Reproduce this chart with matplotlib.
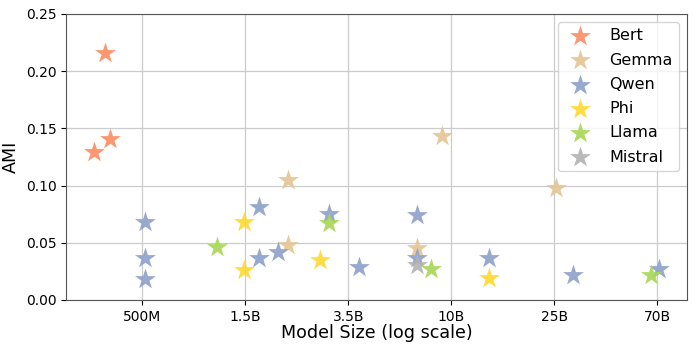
import numpy as np
import matplotlib.pyplot as plt

# model sizes (parameters) and AMI per model family
bert_size = [3.50e8, 3.66e8, 3.15e8]
bert_ami = [0.216, 0.141, 0.129]

gemma_size = [2.03e9, 2.03e9, 7.0e9, 8.9e9, 2.65e10]
gemma_ami = [0.105, 0.048, 0.045, 0.143, 0.098]

qwen_size = [5.1e8, 5.1e8, 5.1e8, 1.53e9, 1.53e9, 1.83e9, 3.0e9, 4.0e9,
             7.0e9, 7.0e9, 1.39e10, 3.13e10, 7.1e10]
qwen_ami = [0.068, 0.037, 0.018, 0.081, 0.037, 0.042, 0.075, 0.029,
            0.074, 0.037, 0.037, 0.022, 0.027]

phi_size = [1.32e9, 1.32e9, 2.74e9, 1.39e10]
phi_ami = [0.068, 0.026, 0.035, 0.019]

llama_size = [1.02e9, 3.0e9, 7.98e9, 6.6e10]
llama_ami = [0.046, 0.067, 0.027, 0.022]

mistral_size = [7.0e9]
mistral_ami = [0.031]

tick_labels = ['500M', '1.5B', '3.5B', '10B', '25B', '70B']

families = [
    ('Bert', bert_size, bert_ami, '#fc8d62'),
    ('Gemma', gemma_size, gemma_ami, '#e5c494'),
    ('Qwen', qwen_size, qwen_ami, '#8da0cb'),
    ('Phi', phi_size, phi_ami, '#ffd92f'),
    ('Llama', llama_size, llama_ami, '#a6d854'),
    ('Mistral', mistral_size, mistral_ami, '#b3b3b3'),
]

fig = plt.figure(figsize=(6.96, 3.48), dpi=100)
ax = fig.add_axes([0.095, 0.138, 0.892, 0.822])

for name, size, ami, color in families:
    ax.scatter(size, ami, marker='*', s=250, color=color, alpha=0.9,
               linewidths=0, label=name, zorder=3)

ax.set_xscale('log')
ax.set_xticks(np.logspace(np.log10(5e8), np.log10(7e10), 6))
ax.set_xticklabels(tick_labels)
ax.minorticks_off()
ax.set_ylim(0, 0.25)
ax.set_yticks([0, 0.05, 0.10, 0.15, 0.20, 0.25])
ax.set_yticklabels(['0.00', '0.05', '0.10', '0.15', '0.20', '0.25'])
ax.tick_params(labelsize=10)

ax.set_xlabel('Model Size (log scale)', fontsize=12.6, labelpad=0)
ax.set_ylabel('AMI', fontsize=12.6)
ax.grid(True, color='#cccccc', linewidth=0.9)
ax.set_axisbelow(True)
for sp in ax.spines.values():
    sp.set_color('#555555')

ax.legend(loc='upper right', fontsize=11.5, labelspacing=0.58)

plt.savefig('out.png', dpi=100)
